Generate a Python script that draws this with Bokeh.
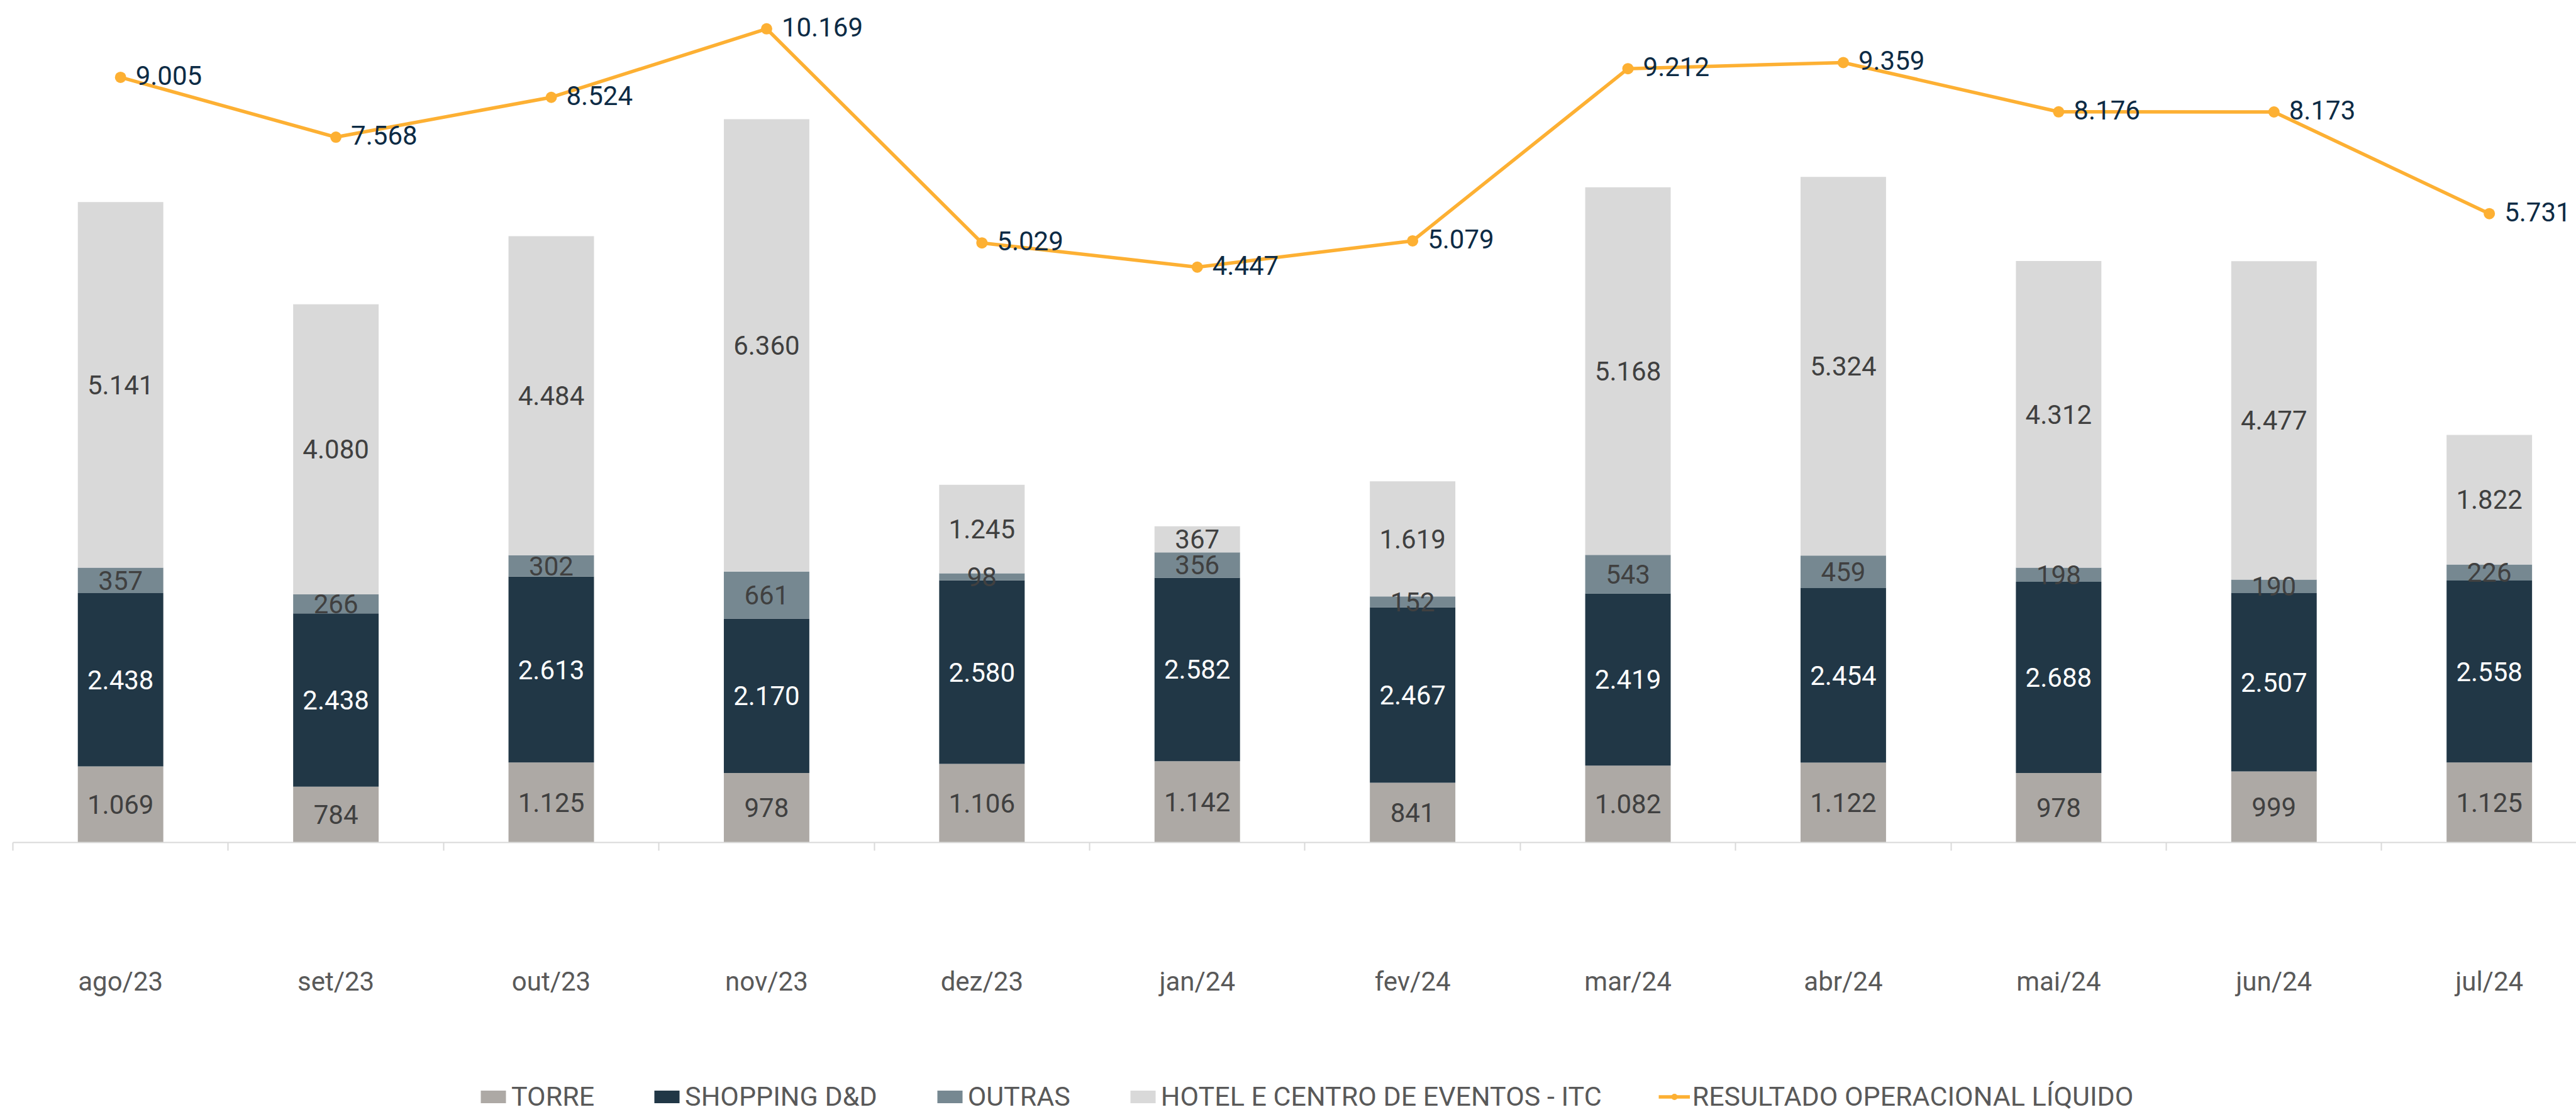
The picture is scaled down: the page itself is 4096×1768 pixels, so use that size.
from bokeh.plotting import figure
from bokeh.layouts import column
from bokeh.models import (ColumnDataSource, Range1d, FixedTicker, Legend,
                          LegendItem, LabelSet)
from bokeh.core.properties import value
from bokeh.embed import file_html
from bokeh.resources import INLINE

# ---------------- data ----------------
months = ["ago/23", "set/23", "out/23", "nov/23", "dez/23", "jan/24",
          "fev/24", "mar/24", "abr/24", "mai/24", "jun/24", "jul/24"]
torre = [1069, 784, 1125, 978, 1106, 1142, 841, 1082, 1122, 978, 999, 1125]
shopping = [2438, 2438, 2613, 2170, 2580, 2582, 2467, 2419, 2454, 2688, 2507, 2558]
outras = [357, 266, 302, 661, 98, 356, 152, 543, 459, 198, 190, 226]
hotel = [5141, 4080, 4484, 6360, 1245, 367, 1619, 5168, 5324, 4312, 4477, 1822]
resultado = [9005, 7568, 8524, 10169, 5029, 4447, 5079, 9212, 9359, 8176, 8173, 5731]

series_names = ["TORRE", "SHOPPING D&D", "OUTRAS", "HOTEL E CENTRO DE EVENTOS - ITC"]
line_name = "RESULTADO OPERACIONAL LÍQUIDO"

# ---------------- styles ----------------
C_TORRE = "#ADA9A5"
C_SHOP = "#213746"
C_OUTRAS = "#768891"
C_HOTEL = "#D9D9D9"
C_LINE = "#FDB033"
C_NAVY = "#0D2B45"
C_LABEL = "#404040"
C_AXIS = "#595959"
FONT = "Roboto"
FS = "42px"
BAR_COLORS = [C_TORRE, C_SHOP, C_OUTRAS, C_HOTEL]


def fmt(v):
    return f"{v:,}".replace(",", ".")


x = list(range(len(months)))
src = ColumnDataSource(dict(x=x, torre=torre, shopping=shopping,
                            outras=outras, hotel=hotel, resultado=resultado))

H1 = 1630
p = figure(width=4096, height=H1,
           x_range=Range1d(-0.5, 11.404), y_range=Range1d(0, 11841),
           output_backend="svg", toolbar_location=None,
           y_axis_location=None,
           min_border_left=20, min_border_right=0,
           min_border_top=0, min_border_bottom=H1 - 1339)
p.outline_line_color = None
p.xgrid.grid_line_color = None
p.ygrid.grid_line_color = None
p.background_fill_color = "white"
p.border_fill_color = "white"

p.extra_y_ranges = {"res": Range1d(-9365, 10853)}

bars = p.vbar_stack(["torre", "shopping", "outras", "hotel"], x="x", width=0.397,
                    color=BAR_COLORS, line_color=None, source=src)

ln = p.line("x", "resultado", source=src, y_range_name="res",
            line_color=C_LINE, line_width=5.5)
sc = p.scatter("x", "resultado", source=src, y_range_name="res",
               size=18, fill_color=C_LINE, line_color=None)

# segment labels (centred in each segment)
stacks = [torre, shopping, outras, hotel]
colors_txt = [C_LABEL, "white", C_LABEL, C_LABEL]
base = [0] * len(months)
for vals, col in zip(stacks, colors_txt):
    centers = [b + v / 2 for b, v in zip(base, vals)]
    base = [b + v for b, v in zip(base, vals)]
    s = ColumnDataSource(dict(x=x, y=centers, t=[fmt(v) for v in vals]))
    p.add_layout(LabelSet(x="x", y="y", text="t", source=s,
                          text_align="center", text_baseline="middle",
                          text_font=value(FONT), text_font_size=value(FS),
                          text_color=value(col)))

# line labels
ls = ColumnDataSource(dict(x=x, y=resultado, t=[fmt(v) for v in resultado]))
p.add_layout(LabelSet(x="x", y="y", text="t", source=ls, y_range_name="res",
                      x_offset=24, y_offset=3,
                      text_align="left", text_baseline="middle",
                      text_font=value(FONT), text_font_size=value(FS),
                      text_color=value(C_NAVY)))

# x axis
ax = p.xaxis[0]
ax.ticker = FixedTicker(ticks=x, minor_ticks=[i - 0.5 for i in range(len(months) + 1)])
ax.major_label_overrides = {i: m for i, m in enumerate(months)}
ax.major_tick_out = 0
ax.major_tick_in = 0
ax.major_tick_line_color = None
ax.minor_tick_out = 13
ax.minor_tick_in = 0
ax.minor_tick_line_color = "#D9D9D9"
ax.minor_tick_line_width = 2
ax.axis_line_color = "#D9D9D9"
ax.axis_line_width = 2
ax.major_label_standoff = 183
ax.major_label_text_font = FONT
ax.major_label_text_font_size = FS
ax.major_label_text_color = C_AXIS

# ---------------- legend strip ----------------
H2 = 1768 - H1
p2 = figure(width=4096, height=H2, x_range=Range1d(0, 1), y_range=Range1d(0, 1),
            output_backend="svg", toolbar_location=None,
            x_axis_location=None, y_axis_location=None,
            min_border_left=0, min_border_right=0,
            min_border_top=0, min_border_bottom=0)
p2.outline_line_color = None
p2.xgrid.grid_line_color = None
p2.ygrid.grid_line_color = None

# off-range placeholders so that the legend can draw its swatches
dummy = ColumnDataSource(dict(x=[-5.0, -4.0], y=[-5.0, -5.0]))
swatches = [p2.vbar(x="x", top="y", width=0.1, color=c, line_color=None, source=dummy)
            for c in BAR_COLORS]
ln2 = p2.line("x", "y", source=dummy, line_color=C_LINE, line_width=5.5)
sc2 = p2.scatter("x", "y", source=dummy, size=18, fill_color=C_LINE, line_color=None)

items = [LegendItem(label=n, renderers=[r], index=0) for n, r in zip(series_names, swatches)]
items.append(LegendItem(label=line_name, renderers=[ln2, sc2], index=0))
leg = Legend(items=items, orientation="horizontal", location=(739, 0),
             glyph_width=50, glyph_height=25, label_standoff=4, spacing=90,
             padding=0, margin=0, border_line_color=None,
             background_fill_alpha=0,
             label_text_font=FONT, label_text_font_size="43px",
             label_text_color=C_AXIS)
p2.add_layout(leg)

layout = column(p, p2, spacing=0)
open("out.html", "w").write(file_html(layout, INLINE))
